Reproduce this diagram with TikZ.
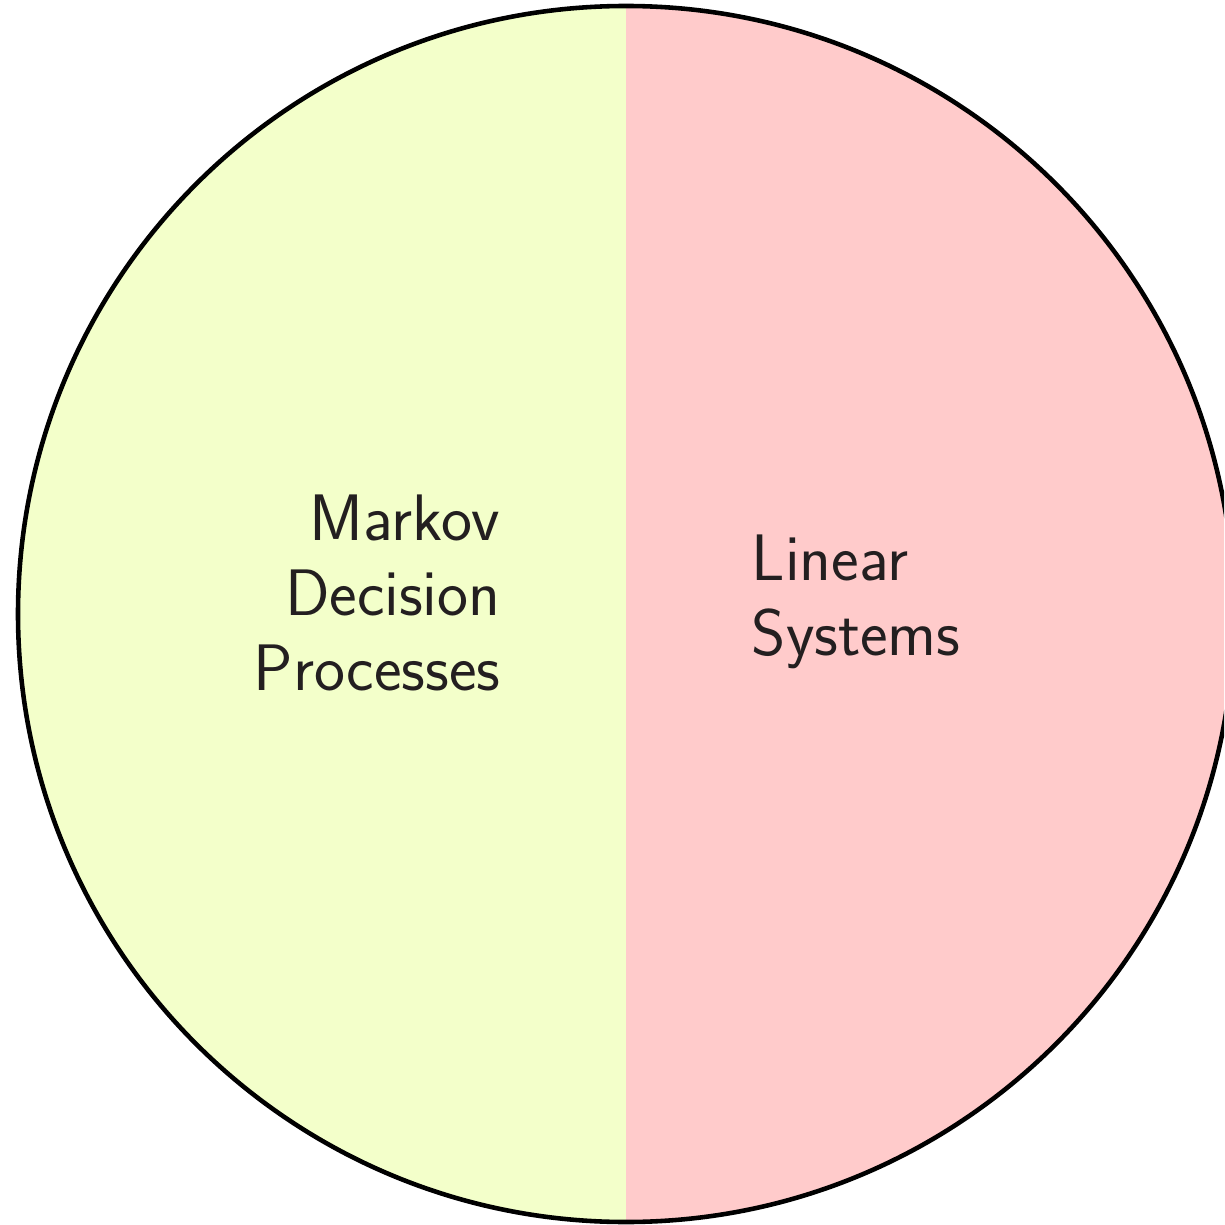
\documentclass[tikz,border=0pt]{standalone}
\usepackage{fontspec}
\definecolor{mdpfill}{HTML}{F3FFCA}
\definecolor{linfill}{HTML}{FFCBCB}
\definecolor{labeltext}{HTML}{231F20}
\tikzset{
  rim/.style={draw=black, line width=1.3pt},
  label/.style={font=\sffamily\fontsize{18.7}{21.3}\selectfont, text=labeltext, inner sep=0pt}
}
\begin{document}
\begin{tikzpicture}[x=0.01cm, y=-0.01cm]
  \useasboundingbox (0,0) rectangle (1224,1225);
  \clip (0,0) rectangle (1224,1225);
  % two halves of the disc
  \begin{scope}
    \clip (626,614) circle[radius=608];
    \fill[mdpfill] (0,0) rectangle (626,1225);
    \fill[linfill] (626,0) rectangle (1300,1225);
  \end{scope}
  \draw[rim] (626,614) circle[radius=608];
  % labels
  \node[label, anchor=base east, align=right] (mdp) at (501,690) {Markov\\Decision\\Processes};
  \node[label, anchor=base west, align=left] (lin) at (751,655) {Linear\\Systems};
\end{tikzpicture}
\end{document}
